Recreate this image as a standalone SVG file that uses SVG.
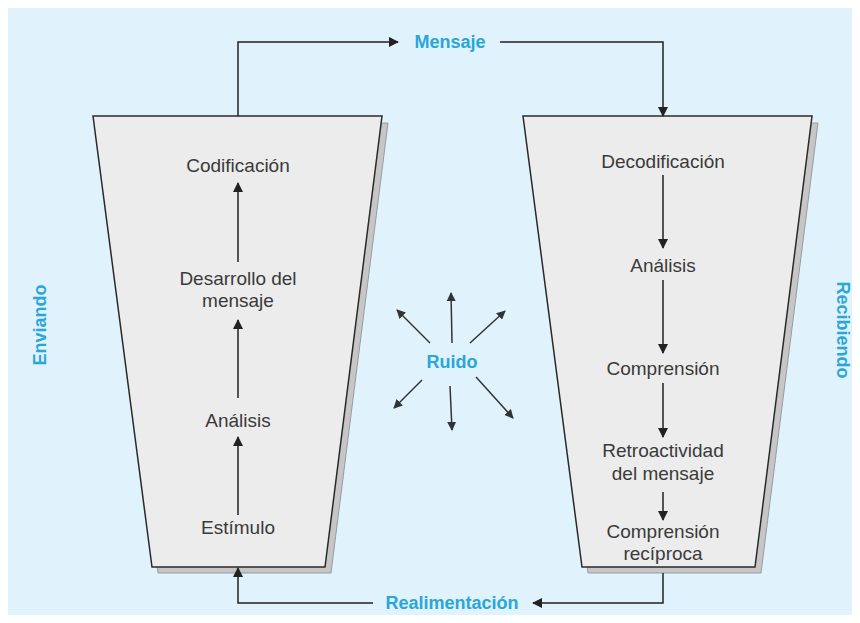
<svg xmlns="http://www.w3.org/2000/svg" width="860" height="623" viewBox="0 0 860 623">
<defs>
<marker id="ah" viewBox="0 0 10 10" refX="9" refY="5" markerWidth="10" markerHeight="10" markerUnits="userSpaceOnUse" orient="auto">
<path d="M0,0 L10,5 L0,10 z" fill="#222"/>
</marker>
<marker id="ahs" viewBox="0 0 10 10" refX="9" refY="5" markerWidth="9" markerHeight="9" markerUnits="userSpaceOnUse" orient="auto">
<path d="M0,0 L10,5 L0,10 z" fill="#333"/>
</marker>
</defs>
<style>
.bg{fill:#e0f2fc}
.trap{fill:#ececec;stroke:#2a2a2a;stroke-width:1.5}
.shadow{fill:#c6c6c6;stroke:#8a8a8a;stroke-width:0.8}
.lbl{font-family:"Liberation Sans",Arial,sans-serif;font-size:19px;fill:#3a3a3a;text-anchor:middle}
.blue{font-family:"Liberation Sans",Arial,sans-serif;font-size:18px;font-weight:bold;fill:#2aa6d9;text-anchor:middle}
.ln{fill:none;stroke:#222;stroke-width:1.5}
.nz{fill:none;stroke:#333;stroke-width:1.5}
</style>
<rect x="0" y="0" width="860" height="623" fill="#ffffff"/>
<rect class="bg" x="8" y="8" width="844" height="607"/>

<g id="enviando">
<polygon class="shadow" points="99,123 388,123 331,573 158,573"/>
<polygon class="trap" points="93,116 382,116 325,567 152,567"/>
<text class="lbl" x="238" y="172">Codificación</text>
<text class="lbl" x="238" y="285">Desarrollo del</text>
<text class="lbl" x="238" y="307">mensaje</text>
<text class="lbl" x="238" y="427">Análisis</text>
<text class="lbl" x="238" y="534">Estímulo</text>
</g>

<g id="recibiendo">
<polygon class="shadow" points="529,123 818,123 761,573 588,573"/>
<polygon class="trap" points="523,116 812,116 755,567 582,567"/>
<text class="lbl" x="663" y="168">Decodificación</text>
<text class="lbl" x="663" y="272">Análisis</text>
<text class="lbl" x="663" y="375">Comprensión</text>
<text class="lbl" x="663" y="457">Retroactividad</text>
<text class="lbl" x="663" y="480">del mensaje</text>
<text class="lbl" x="663" y="538">Comprensión</text>
<text class="lbl" x="663" y="560">recíproca</text>
</g>

<g id="labels">
<text class="blue" x="450" y="48">Mensaje</text>
<text class="blue" x="452" y="609">Realimentación</text>
<text class="blue" x="452" y="368">Ruido</text>
<text class="blue" transform="translate(46,325) rotate(-90)">Enviando</text>
<text class="blue" transform="translate(837,330) rotate(90)">Recibiendo</text>
</g>

<g id="connectors">
<path class="ln" d="M238,116 V42 H398" marker-end="url(#ah)"/>
<path class="ln" d="M500,42 H663 V116" marker-end="url(#ah)"/>
<path class="ln" d="M663,573 V603 H533" marker-end="url(#ah)"/>
<path class="ln" d="M373,603 H238 V568" marker-end="url(#ah)"/>
<line class="ln" x1="238" y1="515" x2="238" y2="437" marker-end="url(#ah)"/>
<line class="ln" x1="238" y1="398" x2="238" y2="320" marker-end="url(#ah)"/>
<line class="ln" x1="238" y1="262" x2="238" y2="183" marker-end="url(#ah)"/>
<line class="ln" x1="663" y1="175" x2="663" y2="248" marker-end="url(#ah)"/>
<line class="ln" x1="663" y1="280" x2="663" y2="353" marker-end="url(#ah)"/>
<line class="ln" x1="663" y1="383" x2="663" y2="437" marker-end="url(#ah)"/>
<line class="ln" x1="663" y1="492" x2="663" y2="520" marker-end="url(#ah)"/>
<line class="nz" x1="452" y1="343" x2="451" y2="293" marker-end="url(#ahs)"/>
<line class="nz" x1="430" y1="343" x2="397" y2="310" marker-end="url(#ahs)"/>
<line class="nz" x1="470" y1="343" x2="505" y2="311" marker-end="url(#ahs)"/>
<line class="nz" x1="422" y1="380" x2="394" y2="408" marker-end="url(#ahs)"/>
<line class="nz" x1="450" y1="386" x2="452" y2="430" marker-end="url(#ahs)"/>
<line class="nz" x1="476" y1="377" x2="513" y2="418" marker-end="url(#ahs)"/>
</g>
</svg>
